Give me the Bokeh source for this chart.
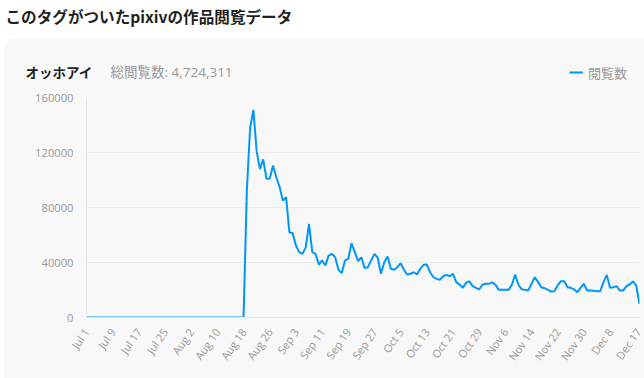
import pandas as pd
from bokeh.plotting import figure
from bokeh.layouts import column
from bokeh.models import (Range1d, FixedTicker, Label, BoxAnnotation, Legend,
                          LegendItem, ColumnDataSource, BasicTickFormatter)
from bokeh.core.properties import value
from bokeh.embed import file_html
from bokeh.resources import INLINE

# ---------------- data ----------------
page_title = "このタグがついたpixivの作品閲覧データ"
tag_name = "オッホアイ"
total_label = "総閲覧数: 4,724,311"
series_name = "閲覧数"

dates = pd.date_range("2023-07-01", "2023-12-17", freq="D")
date_labels = [f"{d.strftime('%b')} {d.day}" for d in dates]

views = [
    0, 0, 0, 0, 0, 0, 0, 0, 0, 0,
    0, 0, 0, 0, 0, 0, 0, 0, 0, 0,
    0, 0, 0, 0, 0, 0, 0, 0, 0, 0,
    0, 0, 0, 0, 0, 0, 0, 0, 0, 0,
    0, 0, 0, 0, 0, 0, 0, 0, 0,
    92000, 138000, 151000, 121000, 108000, 115000, 101000, 101000, 110500, 102000,
    95000, 85000, 87500, 62000, 61300, 52400, 47500, 46300, 51000, 68000,
    47500, 46300, 38500, 41500, 37800, 45000, 46300, 43800, 34700, 32300,
    41500, 42700, 54000, 47500, 41000, 43800, 35900, 36600, 41500, 46300,
    43500, 31800, 40200, 44400, 35400, 34700, 36600, 39500, 34700, 31300,
    31800, 32900, 31300, 35400, 38300, 38500, 32900, 29300, 28100, 27400,
    30000, 31000, 30000, 31800, 25700, 24000, 21600, 25200, 26400, 22800,
    21600, 20400, 23800, 24500, 24500, 25500, 23800, 20100, 20100, 20100,
    20100, 23800, 31300, 23800, 20500, 20100, 19600, 24500, 29300, 25700,
    22000, 21300, 20100, 18900, 19100, 23300, 26400, 26400, 22000, 21600,
    20400, 18400, 21600, 24500, 19600, 19600, 19400, 19100, 19100, 25700,
    31000, 21600, 22000, 22800, 19600, 19600, 22800, 24000, 26200, 23300,
    10000,
]

tick_labels = ["Jul 1", "Jul 9", "Jul 17", "Jul 25", "Aug 2", "Aug 10", "Aug 18",
               "Aug 26", "Sep 3", "Sep 11", "Sep 19", "Sep 27", "Oct 5", "Oct 13",
               "Oct 21", "Oct 29", "Nov 6", "Nov 14", "Nov 22", "Nov 30", "Dec 8",
               "Dec 17"]
y_ticks = [0, 40000, 80000, 120000, 160000]

# ---------------- styles ----------------
CJK = "Noto Sans CJK JP"
LAT = "Open Sans"
GRAY = "#999999"
CARD = "#f8f8f8"
BLUE = "#0096fa"
W = 644
HEAD_H = 87
CARD_X = 4

# ---------------- header figure ----------------
hdr = figure(width=W, height=HEAD_H, output_backend="svg", toolbar_location=None,
             x_range=Range1d(0, W), y_range=Range1d(HEAD_H, 0),
             x_axis_type=None, y_axis_type=None, min_border=0,
             background_fill_color="white", border_fill_color="white",
             outline_line_color=None)
hdr.grid.visible = False

card_kw = dict(left=CARD_X, right=W + 20, top=38, bottom=HEAD_H + 20, fill_color=CARD,
               fill_alpha=1, line_color=None, level="underlay")
if "border_radius" in BoxAnnotation.properties():
    card_kw["border_radius"] = 8
hdr.add_layout(BoxAnnotation(**card_kw))

hdr.add_layout(Label(x=5, y=15, text=page_title, text_font=CJK,
                     text_font_size="15.6px", text_font_style="bold",
                     text_color="#1f1f1f", text_baseline="middle"))
hdr.add_layout(Label(x=25, y=71, text=tag_name, text_font=CJK,
                     text_font_size="13.5px", text_font_style="bold",
                     text_color="#1f1f1f", text_baseline="middle"))
hdr.add_layout(Label(x=110, y=71, text=total_label, text_font=f"{LAT}, {CJK}",
                     text_font_size="13.5px", text_color=GRAY,
                     text_baseline="middle"))

# legend key: a line renderer in the header with no visible point
key = hdr.line(x=[float("nan")], y=[float("nan")], line_color=BLUE, line_width=2)
legend = Legend(items=[LegendItem(label=value(series_name), renderers=[key])],
                location=(569, 5), glyph_width=14, glyph_height=20, label_height=20,
                label_standoff=5, padding=0, margin=0, border_line_color=None,
                background_fill_alpha=0, label_text_font=CJK,
                label_text_font_size="13px", label_text_color=GRAY)
hdr.add_layout(legend, "center")

# ---------------- main chart ----------------
idx = list(range(len(date_labels)))
src = ColumnDataSource(data=dict(x=idx, views=views, date=date_labels))

p = figure(width=W - CARD_X, height=378 - HEAD_H, output_backend="svg",
           toolbar_location=None,
           x_range=Range1d(0, len(idx) - 1), y_range=Range1d(y_ticks[0], y_ticks[-1]),
           min_border_left=86 - CARD_X, min_border_right=5, min_border_top=97 - HEAD_H,
           min_border_bottom=61, background_fill_color=CARD,
           border_fill_color=CARD, outline_line_color=None)
if "margin" in p.properties():
    p.margin = (0, 0, 0, CARD_X)
if "styles" in p.properties():
    p.styles = {"background-color": CARD}

p.line(x="x", y="views", source=src, line_color=BLUE, line_width=2)

tick_pos = [date_labels.index(t) for t in tick_labels]
xa = p.xaxis[0]
xa.ticker = FixedTicker(ticks=tick_pos)
xa.major_label_overrides = {pos: lab for pos, lab in zip(tick_pos, tick_labels)}
xa.major_label_orientation = 0.96
xa.major_label_text_font = LAT
xa.major_label_text_font_size = "11px"
xa.major_label_text_color = GRAY
xa.major_label_standoff = 6
xa.axis_line_color = "#e6e6e6"
xa.major_tick_line_color = None
xa.minor_tick_line_color = None

ya = p.yaxis[0]
ya.ticker = FixedTicker(ticks=y_ticks)
ya.formatter = BasicTickFormatter(use_scientific=False)
ya.major_label_text_font = LAT
ya.major_label_text_font_size = "11.2px"
ya.major_label_text_color = GRAY
ya.major_label_standoff = 7
ya.axis_line_color = "#e6e6e6"
ya.major_tick_line_color = None
ya.minor_tick_line_color = None

p.xgrid.visible = False
p.ygrid.grid_line_color = "#ebebeb"

# keep each figure's frame where its own borders put it
for fig in (hdr, p):
    if "frame_align" in fig.properties():
        fig.frame_align = False

layout = column(hdr, p, spacing=0)
open("out.html", "w").write(file_html(layout, INLINE))
